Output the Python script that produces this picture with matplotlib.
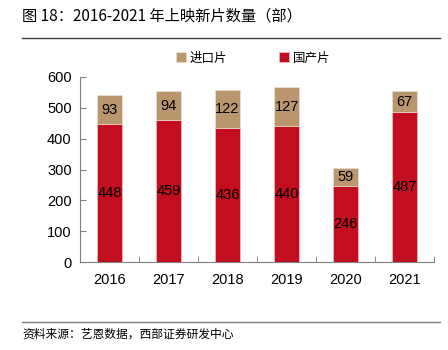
import matplotlib
matplotlib.use("Agg")
import matplotlib.pyplot as plt
from matplotlib.lines import Line2D
import numpy as np

plt.rcParams['font.family'] = ['Noto Sans CJK SC', 'DejaVu Sans']

years = ['2016', '2017', '2018', '2019', '2020', '2021']
domestic = [448, 459, 436, 440, 246, 487]
imported = [93, 94, 122, 127, 59, 67]

red = '#C20E1F'
tan = '#B9966E'
num_font = 'Liberation Sans'

fig = plt.figure(figsize=(4.48, 3.5), dpi=100)
ax = fig.add_axes([0.1786, 0.2514, 0.7904, 0.5286])
x = np.arange(len(years))
w = 0.42
ax.bar(x, domestic, width=w, color=red, edgecolor='#F2D0D0', linewidth=0.4,
       label='国产片', zorder=2)
ax.bar(x, imported, width=w, bottom=domestic, color=tan, edgecolor='#F0E6DA',
       linewidth=0.4, label='进口片', zorder=2)

for xi, d, im in zip(x, domestic, imported):
    ax.text(xi, d / 2, str(d), ha='center', va='center', fontsize=10.5,
            family=num_font, color='black')
    ax.text(xi, d + im / 2, str(im), ha='center', va='center', fontsize=10.5,
            family=num_font, color='black')

ax.set_xlim(-0.5, len(years) - 0.5)
ax.set_ylim(0, 600)
ax.set_yticks(range(0, 601, 100))
ax.set_xticks(x)
ax.set_xticklabels(years, family=num_font, fontsize=10.5)
ax.tick_params(axis='x', length=0, pad=8)
ax.set_xticks(np.arange(0.5, len(years), 1), minor=True)
ax.tick_params(axis='x', which='minor', direction='in', length=4, color='#808080')
ax.tick_params(axis='y', direction='in', length=4, color='#808080', labelsize=10.5, pad=6)
for lbl in ax.get_yticklabels():
    lbl.set_family(num_font)
for s in ['top', 'right']:
    ax.spines[s].set_visible(False)
for s in ['left', 'bottom']:
    ax.spines[s].set_color('#808080')

handles, labels = ax.get_legend_handles_labels()
leg = fig.legend(handles[::-1], labels[::-1], loc='center', bbox_to_anchor=(0.565, 0.834),
                 ncol=2, frameon=False, fontsize=9, handlelength=0.8, handleheight=0.8,
                 columnspacing=4.2, handletextpad=0.3)

fig.text(0.049, 0.955, '图 18：2016-2021 年上映新片数量（部）', fontsize=11, va='center', ha='left')
fig.add_artist(Line2D([0.049, 0.982], [0.892, 0.892], color='#404040', lw=1))
fig.add_artist(Line2D([0.049, 0.982], [0.08, 0.08], color='#808080', lw=1))
fig.text(0.049, 0.045, '资料来源：艺恩数据，西部证券研发中心', fontsize=8.5, va='center', ha='left')

fig.savefig('out.png', dpi=100)
